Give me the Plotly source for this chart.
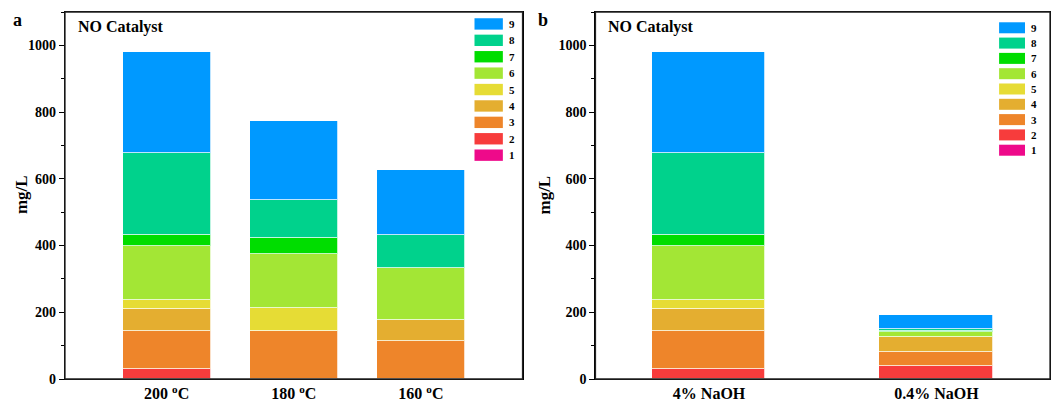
import plotly.graph_objects as go
from plotly.subplots import make_subplots

# ---------------- data ----------------
series_names = ["1", "2", "3", "4", "5", "6", "7", "8", "9"]
series_colors = ["#EE0A8A", "#F73C3C", "#EE852A", "#E4AE30", "#E6DC35",
                 "#A3E635", "#00DD00", "#00D28C", "#0099FF"]

temp_categories = ["200 <sup>o</sup>C", "180 <sup>o</sup>C", "160 <sup>o</sup>C"]
naoh_categories = ["4% NaOH", "0.4% NaOH"]

temp_s1 = [0, 0, 0]
temp_s2 = [30, 0, 0]
temp_s3 = [115, 145, 115]
temp_s4 = [66, 0, 63]
temp_s5 = [26, 68, 0]
temp_s6 = [163, 161, 155]
temp_s7 = [33, 48, 0]
temp_s8 = [245, 115, 99]
temp_s9 = [302, 236, 195]

naoh_s1 = [0, 0]
naoh_s2 = [30, 39]
naoh_s3 = [115, 42]
naoh_s4 = [66, 44]
naoh_s5 = [26, 2]
naoh_s6 = [163, 15]
naoh_s7 = [33, 2]
naoh_s8 = [245, 7]
naoh_s9 = [302, 40]

y_ticks = [0, 200, 400, 600, 800, 1000]
panel_title = "NO Catalyst"
y_title = "mg/L"

temp_series = [temp_s1, temp_s2, temp_s3, temp_s4, temp_s5, temp_s6, temp_s7, temp_s8, temp_s9]
naoh_series = [naoh_s1, naoh_s2, naoh_s3, naoh_s4, naoh_s5, naoh_s6, naoh_s7, naoh_s8, naoh_s9]

# ---------------- figure ----------------
FONT = "Liberation Serif"
W, H = 1052, 403
ML, MR, MT, MB = 65, 1, 12, 22
PW, PH = W - ML - MR, H - MT - MB
dom_a = [0, 458 / PW]
dom_b = [531 / PW, 1]


def px_x(px):
    return (px - ML) / PW


def px_y(py):
    return (H - MB - py) / PH


fig = make_subplots(rows=1, cols=2, horizontal_spacing=0.07)

for name, color, va, vb in zip(series_names, series_colors, temp_series, naoh_series):
    fig.add_trace(go.Bar(x=temp_categories, y=va, name=name, marker_color=color,
                         marker_line_color="rgba(255,255,255,0.75)", marker_line_width=1,
                         width=0.69, showlegend=False), row=1, col=1)
    fig.add_trace(go.Bar(x=naoh_categories, y=vb, name=name, marker_color=color,
                         marker_line_color="rgba(255,255,255,0.75)", marker_line_width=1,
                         width=0.5, showlegend=False), row=1, col=2)

axis_common = dict(showline=True, linecolor="black", linewidth=1.3, mirror=True,
                   showgrid=False, zeroline=False)
fig.update_xaxes(**axis_common, ticks="",
                 tickfont=dict(family=FONT, size=16, color="black", weight="bold"))
fig.update_xaxes(domain=dom_a, range=[-0.8, 2.8], row=1, col=1)
fig.update_xaxes(domain=dom_b, range=[-0.5, 1.5], row=1, col=2)
fig.update_yaxes(**axis_common, range=[0, 1100], tickvals=y_ticks, ticks="outside",
                 ticklen=5, tickwidth=1.2, tickcolor="black",
                 minor=dict(dtick=100, ticks="outside", ticklen=3, tickwidth=1, tickcolor="black"),
                 tickfont=dict(family=FONT, size=14, color="black", weight="bold"))

annotations = []
shapes = []
# frame around each panel
for xr, yr in [("x domain", "y domain"), ("x2 domain", "y2 domain")]:
    shapes.append(dict(type="rect", xref=xr, yref=yr, x0=0, x1=1, y0=0, y1=1,
                       line=dict(color="#222222", width=1.3), fillcolor="rgba(0,0,0,0)",
                       layer="above"))

# legend layout per panel: (xref, yref, swatch x0, x1, label x, top center, step, height)
legend_specs = [("x domain", "y domain", 0.895, 0.957, 0.967, 0.9675, 0.0447, 0.031),
                ("x2 domain", "y2 domain", 0.888, 0.945, 0.954, 0.957, 0.0417, 0.030)]
for xr, yr, x0, x1, xl, ytop, step, h in legend_specs:
    for k, (name, color) in enumerate(zip(series_names[::-1], series_colors[::-1])):
        yc = ytop - k * step
        shapes.append(dict(type="rect", xref=xr, yref=yr, x0=x0, x1=x1,
                           y0=yc - h / 2, y1=yc + h / 2, fillcolor=color,
                           line=dict(width=0), layer="above"))
        annotations.append(dict(text=f"<b>{name}</b>", xref=xr, yref=yr, x=xl, y=yc,
                                xanchor="left", yanchor="middle", showarrow=False,
                                font=dict(family=FONT, size=11, color="black")))
    annotations.append(dict(text=f"<b>{panel_title}</b>", xref=xr, yref=yr,
                            x=0.024, y=0.96, xanchor="left", yanchor="middle",
                            showarrow=False, font=dict(family=FONT, size=16, color="black")))

for xp, lab in [(21, y_title), (544, y_title)]:
    annotations.append(dict(text=f"<b>{lab}</b>", xref="paper", yref="paper",
                            x=px_x(xp), y=px_y(196),
                            xanchor="center", yanchor="middle", textangle=-90,
                            showarrow=False, font=dict(family=FONT, size=17, color="black")))
for xp, lab in [(17, "a"), (543, "b")]:
    annotations.append(dict(text=f"<b>{lab}</b>", xref="paper", yref="paper",
                            x=px_x(xp), y=px_y(20), xanchor="center", yanchor="middle",
                            showarrow=False, font=dict(family=FONT, size=18, color="black")))

fig.update_layout(width=W, height=H, barmode="stack", bargap=0,
                  margin=dict(l=ML, r=MR, t=MT, b=MB),
                  paper_bgcolor="white", plot_bgcolor="white",
                  annotations=annotations, shapes=shapes,
                  font=dict(family=FONT, color="black"))

fig.write_html("out.html")
